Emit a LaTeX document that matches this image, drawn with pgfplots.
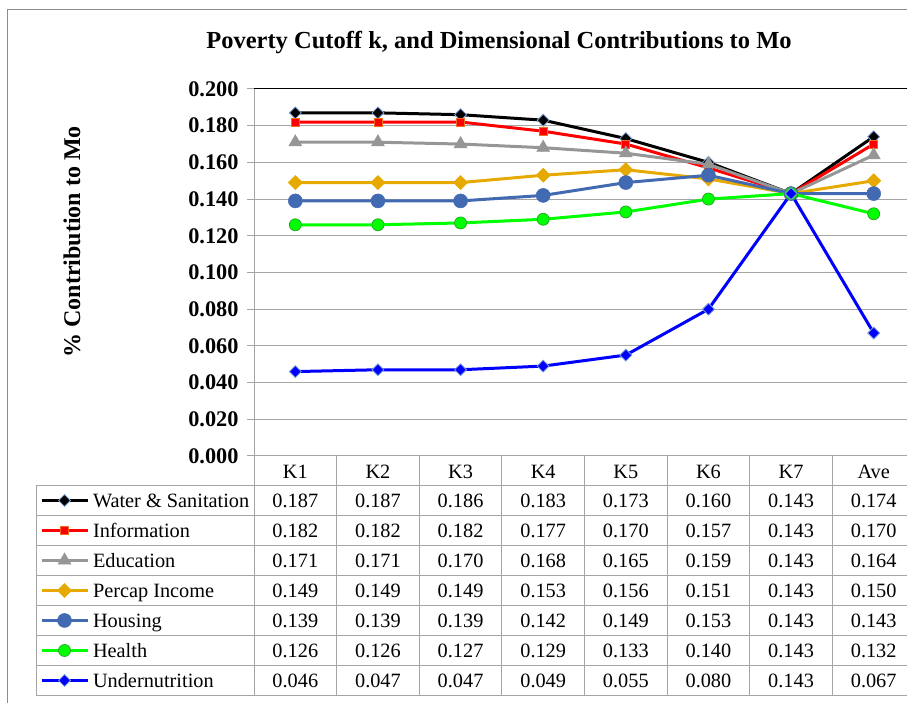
\documentclass[border=0pt]{standalone}
\usepackage{fontspec}
\setmainfont{Liberation Serif}
\usepackage{pgfplots}
\usepackage{pgfplotstable}
\pgfplotsset{compat=1.18}

\definecolor{cWater}{RGB}{0,0,0}
\definecolor{cInfo}{RGB}{255,0,0}
\definecolor{cInfoO}{RGB}{240,110,30}
\definecolor{cEdu}{RGB}{150,150,150}
\definecolor{cInc}{RGB}{229,169,0}
\definecolor{cHous}{RGB}{66,106,178}
\definecolor{cHealth}{RGB}{0,255,0}
\definecolor{cHealthO}{RGB}{40,170,40}
\definecolor{cUnder}{RGB}{0,0,255}
\definecolor{cGrid}{RGB}{165,165,165}
\definecolor{cOutline}{RGB}{120,160,215}
\definecolor{cBorder}{RGB}{140,140,140}

\pgfplotstableread{
x water info edu inc hous health under
0 0.187 0.182 0.171 0.149 0.139 0.126 0.046
1 0.187 0.182 0.171 0.149 0.139 0.126 0.047
2 0.186 0.182 0.170 0.149 0.139 0.127 0.047
3 0.183 0.177 0.168 0.153 0.142 0.129 0.049
4 0.173 0.170 0.165 0.156 0.149 0.133 0.055
5 0.160 0.157 0.159 0.151 0.153 0.140 0.080
6 0.143 0.143 0.143 0.143 0.143 0.143 0.143
7 0.174 0.170 0.164 0.150 0.143 0.132 0.067
}\data

\newcommand{\tabfont}{\fontsize{20.3}{20.3}\selectfont}

\begin{document}
\begin{tikzpicture}[x=1pt,y=1pt]
\useasboundingbox (0,0) rectangle (907,703);
\draw[cBorder, line width=1pt] (7,693) rectangle (940,-20);

\begin{axis}[
  at={(254pt,247pt)}, anchor=south west,
  scale only axis, width=661pt, height=367pt,
  xmin=-0.5, xmax=7.5, ymin=0, ymax=0.2,
  clip=false,
  axis x line*=bottom, axis y line*=left,
  axis line style={cGrid, line width=1pt},
  xtick={0,1,2,3,4,5,6,7},
  xticklabels={K1,K2,K3,K4,K5,K6,K7,Ave},
  xtick style={draw=none},
  xticklabel style={font=\tabfont, yshift=1pt},
  ytick={0,0.02,0.04,0.06,0.08,0.1,0.12,0.14,0.16,0.18,0.2},
  tick align=outside,
  major tick length=7pt,
  ytick style={cGrid, line width=1pt},
  yticklabel style={font=\fontsize{22.3}{22.3}\bfseries\selectfont, xshift=-5pt},
  /pgf/number format/.cd, fixed, fixed zerofill, precision=3, assume math mode=true,
  /pgfplots/.cd,
  ymajorgrids,
  grid style={cGrid, line width=1pt},
  legend image code/.code={\draw[#1, yshift=7pt, mark repeat=2, mark phase=2] plot coordinates {(0pt,0pt) (23pt,0pt) (46pt,0pt)};},
  legend cell align=left,
  legend style={at={(axis description cs:-0.3237,-0.0817)}, anchor=north west,
    draw=none, fill=none, inner sep=0pt, outer sep=0pt, row sep=0pt, column sep=4pt,
    font=\tabfont,
    nodes={inner sep=0pt, text height=21.5pt, text depth=8.5pt, anchor=base west}},
]
\draw[black, line width=1pt] (rel axis cs:0,1) -- (rel axis cs:1,1);
\addplot[cWater, line width=3pt, mark=square*, mark size=4.2pt,
  mark options={rotate=45, fill=cWater, draw=cOutline, line width=0.8pt}]
  table[x=x, y=water]{\data};
\addlegendentry{Water \& Sanitation}
\addplot[cInfo, line width=3pt, mark=square*, mark size=4pt,
  mark options={fill=cInfo, draw=cInfoO, line width=0.8pt}]
  table[x=x, y=info]{\data};
\addlegendentry{Information}
\addplot[cEdu, line width=3pt, mark=triangle*, mark size=7.5pt,
  mark options={fill=cEdu, draw=cEdu, line width=0.5pt}]
  table[x=x, y=edu]{\data};
\addlegendentry{Education}
\addplot[cInc, line width=3pt, mark=square*, mark size=5pt,
  mark options={rotate=45, fill=cInc, draw=cInc, line width=0.5pt}]
  table[x=x, y=inc]{\data};
\addlegendentry{Percap Income}
\addplot[cHous, line width=3pt, mark=*, mark size=7pt,
  mark options={fill=cHous, draw=cHous, line width=0.5pt}]
  table[x=x, y=hous]{\data};
\addlegendentry{Housing}
\addplot[cHealth, line width=3pt, mark=*, mark size=6pt,
  mark options={fill=cHealth, draw=cHealthO, line width=0.8pt}]
  table[x=x, y=health]{\data};
\addlegendentry{Health}
\addplot[cUnder, line width=3pt, mark=square*, mark size=4.2pt,
  mark options={rotate=45, fill=cUnder, draw=cOutline, line width=0.8pt}]
  table[x=x, y=under]{\data};
\addlegendentry{Undernutrition}
\end{axis}

% data table grid
\foreach \yy in {217,187,157,127,97,67,37,7}{
  \draw[cGrid, line width=1pt] (36,\yy) -- (940,\yy);
}
\draw[cGrid, line width=1pt] (36,217) -- (36,7);
\draw[cGrid, line width=1pt] (254,247) -- (254,7);
\foreach \i in {1,...,8}{
  \draw[cGrid, line width=1pt] ({254+82.625*\i},247) -- ({254+82.625*\i},7);
}
% data table values
\foreach \col [count=\r from 0] in {water,info,edu,inc,hous,health,under}{
  \foreach \c in {0,...,7}{
    \pgfplotstablegetelem{\c}{\col}\of\data
    \node[anchor=base, font=\tabfont, inner sep=0pt] at ({254+82.625*(\c+0.5)}, {202-30*\r-7}) {\pgfplotsretval};
  }
}

\node[font=\fontsize{24.5}{24.5}\bfseries\selectfont] at (499,660) {Poverty Cutoff k, and Dimensional Contributions to Mo};
\node[font=\fontsize{24}{24}\bfseries\selectfont, rotate=90] at (72,461) {\% Contribution to Mo};
\end{tikzpicture}
\end{document}
